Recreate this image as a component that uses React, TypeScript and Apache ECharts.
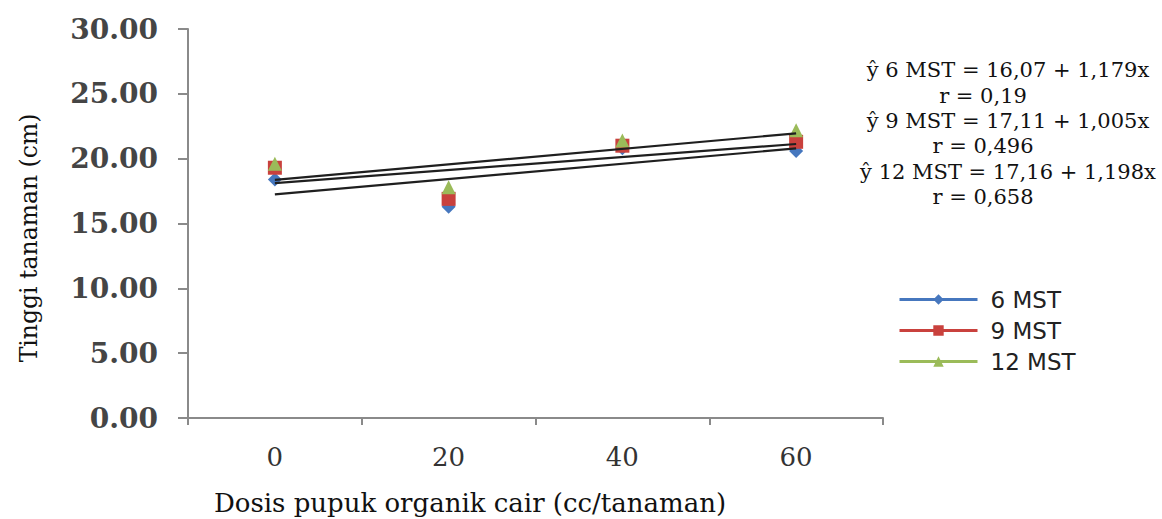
import React, { useEffect, useRef } from "react";
import * as echarts from "echarts";

const categories = ["0", "20", "40", "60"];
const mst6 = [18.4, 16.3, 20.8, 20.6];
const mst9 = [19.3, 16.9, 21.0, 21.3];
const mst12 = [19.6, 17.8, 21.4, 22.2];
const trend6 = [17.25, 20.79];
const trend9 = [18.12, 21.13];
const trend12 = [18.36, 21.95];
const yTicks = { min: 0, max: 30, interval: 5 };
const equations = [
  "ŷ 6 MST = 16,07 + 1,179x",
  "r = 0,19",
  "ŷ 9 MST = 17,11 + 1,005x",
  "r = 0,496",
  "ŷ 12 MST = 17,16 + 1,198x",
  "r = 0,658",
];
const xTitle = "Dosis pupuk organik cair (cc/tanaman)";
const yTitle = "Tinggi tanaman (cm)";

const BLUE = "#4677BE";
const RED = "#C9413D";
const GREEN = "#9BBB59";

export default function App() {
  const ref = useRef<HTMLDivElement>(null);
  useEffect(() => {
    if (!ref.current) return;
    const chart = echarts.init(ref.current, undefined, { renderer: "svg" });
    const trendSeries = (name: string, v: number[]) => ({
      name,
      type: "line",
      data: [
        [0, v[0]],
        [categories.length - 1, v[1]],
      ],
      symbol: "none",
      lineStyle: { color: "#1f1f1f", width: 2.2 },
      z: 5,
      silent: true,
    });
    const markerSeries = (name: string, data: number[], color: string, symbol: string, size: number) => ({
      name,
      type: "line",
      data,
      symbol,
      symbolSize: size,
      itemStyle: { color },
      lineStyle: { width: 0, opacity: 0, color },
      z: 3,
    });
    const eqLineY = [70, 96, 121, 146, 172, 197];
    const graphics: any[] = equations.map((t, i) => ({
      type: "text",
      x: i % 2 === 0 ? 1008 : 983,
      y: eqLineY[i],
      style: {
        text: t,
        font: '21px "DejaVu Serif"',
        fill: "#111",
        textAlign: "center",
        textVerticalAlign: "middle",
      },
    }));
    graphics.push({
      type: "text",
      x: 470,
      y: 503,
      style: {
        text: xTitle,
        font: '26px "DejaVu Serif"',
        fill: "#111",
        textAlign: "center",
        textVerticalAlign: "middle",
      },
    });
    graphics.push({
      type: "text",
      x: 29,
      y: 238,
      rotation: Math.PI / 2,
      style: {
        text: yTitle,
        font: '23.5px "DejaVu Serif"',
        fill: "#111",
        textAlign: "center",
        textVerticalAlign: "middle",
      },
    });
    chart.setOption({
      animation: false,
      backgroundColor: "#ffffff",
      grid: {
        left: 188,
        right: 279,
        top: 29,
        bottom: 101,
        containLabel: false,
        outerBoundsMode: "none",
      },
      legend: {
        orient: "vertical",
        left: 893,
        top: 283,
        data: ["6 MST", "9 MST", "12 MST"],
        itemWidth: 78,
        itemHeight: 13,
        itemGap: 8,
        lineStyle: { width: 3, opacity: 1 },
        textStyle: {
          fontFamily: "DejaVu Sans",
          fontSize: 23,
          color: "#222",
          padding: [0, 0, 0, 8],
        },
        selectedMode: false,
      },
      xAxis: {
        type: "category",
        data: categories,
        boundaryGap: true,
        axisLine: { lineStyle: { color: "#8a8a8a", width: 2 } },
        axisTick: { show: true, length: 7, lineStyle: { color: "#8a8a8a", width: 2 } },
        axisLabel: {
          fontFamily: "DejaVu Serif",
          fontSize: 26,
          color: "#333",
          margin: 26,
        },
      },
      yAxis: {
        type: "value",
        min: yTicks.min,
        max: yTicks.max,
        interval: yTicks.interval,
        splitLine: { show: false },
        axisLine: { show: true, lineStyle: { color: "#8a8a8a", width: 2 } },
        axisTick: { show: true, length: 10, lineStyle: { color: "#8a8a8a", width: 2 } },
        axisLabel: {
          fontFamily: "DejaVu Serif",
          fontSize: 28,
          fontWeight: "bold",
          color: "#454545",
          margin: 30,
          formatter: (v: number) => v.toFixed(2),
        },
      },
      series: [
        markerSeries("6 MST", mst6, BLUE, "diamond", 14),
        markerSeries("9 MST", mst9, RED, "rect", 14),
        markerSeries("12 MST", mst12, GREEN, "triangle", 14),
        trendSeries("trend 6 MST", trend6),
        trendSeries("trend 9 MST", trend9),
        trendSeries("trend 12 MST", trend12),
      ],
      graphic: graphics,
    });
    return () => chart.dispose();
  }, []);
  return (
    <div
      ref={ref}
      style={{ position: "fixed", left: 0, top: 0, width: 1162, height: 519 }}
    />
  );
}
